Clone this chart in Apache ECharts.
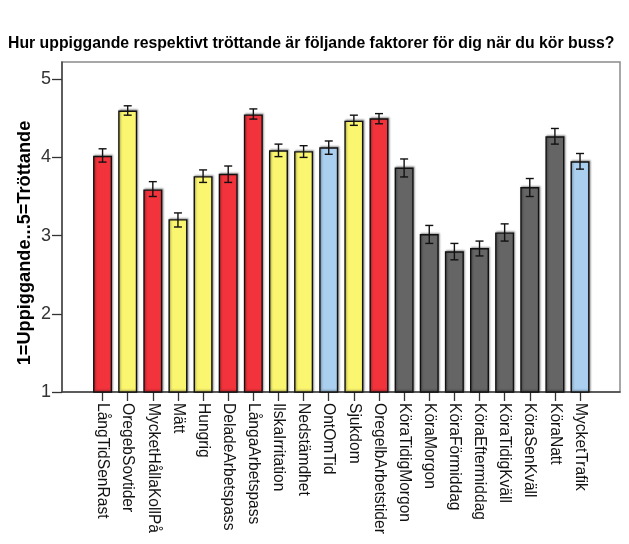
<!DOCTYPE html>
<html>
<head>
<meta charset="utf-8">
<script src="https://cdn.jsdelivr.net/npm/echarts@6/dist/echarts.min.js"></script>
<style>html,body{margin:0;padding:0;background:#fff}#c{width:629px;height:544px}</style>
</head>
<body>
<div id="c"></div>
<script>
const categories = ['LångTidSenRast','OregebSovtider','MycketHållaKollPå','Mätt','Hungrig','DeladeArbetspass','LångaArbetspass','IlskaIrritation','Nedstämdhet','OntOmTid','Sjukdom','OregelbArbetstider','KöraTidigMorgon','KöraMorgon','KöraFörmiddag','KöraEftermiddag','KöraTidigKväll','KöraSenKväll','KöraNatt','MycketTrafik'];
const means   = [4.02,4.60,3.59,3.21,3.76,3.79,4.55,4.09,4.08,4.13,4.47,4.50,3.87,3.02,2.80,2.84,3.04,3.62,4.27,3.95];
const errLow  = [3.94,4.54,3.50,3.11,3.68,3.68,4.49,4.01,4.00,4.04,4.41,4.43,3.75,2.90,2.69,2.74,2.93,3.50,4.17,3.85];
const errHigh = [4.11,4.66,3.69,3.29,3.84,3.89,4.62,4.17,4.15,4.21,4.54,4.56,3.98,3.13,2.90,2.93,3.15,3.73,4.37,4.05];
const groups  = ['r','y','r','y','y','r','r','y','y','b','y','r','g','g','g','g','g','g','g','b'];
const yTicks  = [1,2,3,4,5];
const yTitle  = '1=Uppiggande...5=Tröttande';

const palette = {r:'#f2333b', y:'#fbf66f', g:'#656565', b:'#abcfee'};
const YMIN = 1, YMAX = 5.22;

const chart = echarts.init(document.getElementById('c'));
chart.setOption({
  animation:false,
  backgroundColor:'#fff',
  title:{
    text:'Hur uppiggande respektivt tröttande är följande faktorer för dig när du kör buss?',
    left:3, top:31,
    textStyle:{fontFamily:'Liberation Sans, Arial', fontWeight:'bold', fontSize:15.8, color:'#000'}
  },
  graphic:[
    {type:'text', x:25, y:243, rotation:Math.PI/2,
     style:{text:yTitle, align:'center', verticalAlign:'middle', fontFamily:'Liberation Sans, Arial', fontWeight:'bold', fontSize:18.2, fill:'#000'}}
  ],
  grid:[
    {left:62, top:62, width:558, height:330, show:true, borderColor:'#8a8a8a', borderWidth:1.5, backgroundColor:'transparent'},
    {left:90, top:62, width:502.6, height:330}
  ],
  xAxis:[
    {gridIndex:0, type:'value', min:0, max:1, axisLine:{show:true, lineStyle:{color:'#444', width:1.5}}, axisTick:{show:false}, axisLabel:{show:false}, splitLine:{show:false}},
    {gridIndex:1, type:'category', data:categories, boundaryGap:true,
     axisLine:{show:false},
     axisTick:{show:true, alignWithLabel:true, length:9, lineStyle:{color:'#333', width:1.3}},
     axisLabel:{interval:0, rotate:-90, margin:11, fontFamily:'Liberation Sans, Arial', fontSize:15.6, color:'#111'},
     splitLine:{show:false}}
  ],
  yAxis:[
    {gridIndex:0, type:'value', min:YMIN, max:YMAX,
     axisLine:{show:true, lineStyle:{color:'#444', width:1.5}},
     axisTick:{show:true, length:10, customValues:yTicks, lineStyle:{color:'#333', width:1.3}},
     axisLabel:{customValues:yTicks, margin:11, fontFamily:'Liberation Sans, Arial', fontSize:18, color:'#333'},
     splitLine:{show:false}},
    {gridIndex:1, type:'value', min:YMIN, max:YMAX, show:false, splitLine:{show:false}}
  ],
  series:[
    {type:'bar', xAxisIndex:1, yAxisIndex:1, barWidth:19,
     data:means.map((v,i)=>({value:v, itemStyle:{color:palette[groups[i]]}})),
     itemStyle:{borderColor:'#111', borderWidth:1.4, shadowColor:'rgba(0,0,0,0.35)', shadowBlur:2, shadowOffsetX:1, shadowOffsetY:-1}},
    {type:'custom', xAxisIndex:1, yAxisIndex:1, z:10,
     data:categories.map((c,i)=>[i, errLow[i], errHigh[i]]),
     renderItem:function(params, api){
       const lo = api.coord([api.value(0), api.value(1)]);
       const hi = api.coord([api.value(0), api.value(2)]);
       const w = 4;
       const st = {stroke:'#111', lineWidth:1.4};
       return {type:'group', children:[
         {type:'line', shape:{x1:lo[0], y1:lo[1], x2:hi[0], y2:hi[1]}, style:st},
         {type:'line', shape:{x1:hi[0]-w, y1:hi[1], x2:hi[0]+w, y2:hi[1]}, style:st},
         {type:'line', shape:{x1:lo[0]-w, y1:lo[1], x2:lo[0]+w, y2:lo[1]}, style:st}
       ]};
     }}
  ]
});
</script>
</body>
</html>
